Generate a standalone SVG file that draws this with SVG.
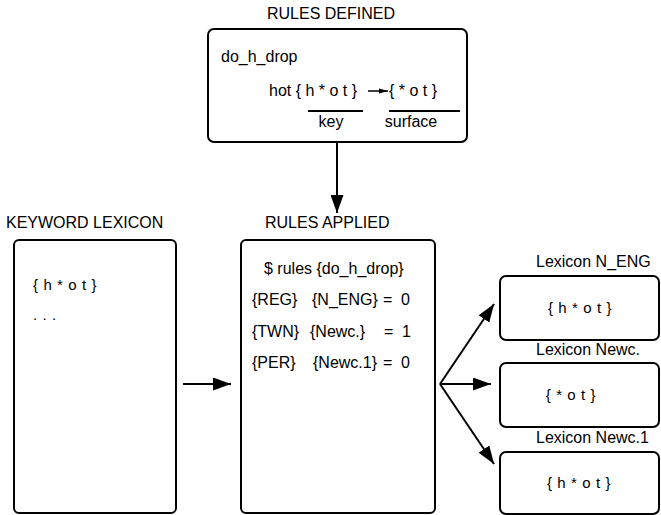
<svg xmlns="http://www.w3.org/2000/svg" width="661" height="515" viewBox="0 0 661 515">
<style>
text{font-family:"Liberation Sans",Arial,sans-serif;font-size:16px;fill:#000}
.s{font-size:15px;letter-spacing:0.6px}
.box{fill:#fff;stroke:#000;stroke-width:2}
.ln{stroke:#000;stroke-width:2;fill:none}
.thin{stroke:#000;stroke-width:1.5;fill:none}
</style>
<defs>
<marker id="ah" viewBox="0 0 18 13" refX="18" refY="6.5" markerWidth="18" markerHeight="13" markerUnits="userSpaceOnUse" orient="auto">
<path d="M0,0 L18,6.5 L0,13 Z" fill="#000"/>
</marker>
<marker id="sm" viewBox="0 0 9 6" refX="9" refY="3" markerWidth="9" markerHeight="6" markerUnits="userSpaceOnUse" orient="auto">
<path d="M0,0.5 L9,3 L0,5.5 Z" fill="#000"/>
</marker>
</defs>

<g id="rules-defined">
<text x="331" y="19" text-anchor="middle">RULES DEFINED</text>
<rect class="box" x="208" y="29" width="259" height="113" rx="6"/>
<text x="221" y="62">do_h_drop</text>
<text x="269" y="96">hot { h * o t }</text>
<line class="thin" x1="368" y1="91" x2="388" y2="91" marker-end="url(#sm)"/>
<text x="389" y="96">{ * o t }</text>
<line class="ln" x1="308" y1="111" x2="363" y2="111"/>
<line class="ln" x1="389" y1="111" x2="460" y2="111"/>
<text x="331" y="127" text-anchor="middle">key</text>
<text x="411" y="127" text-anchor="middle">surface</text>
</g>

<g id="keyword-lexicon">
<text x="6" y="228">KEYWORD LEXICON</text>
<rect class="box" x="14" y="240" width="162" height="273" rx="5"/>
<text class="s" x="33" y="290">{ h * o t }</text>
<text class="s" x="33" y="320">. . .</text>
</g>

<g id="rules-applied">
<text x="265" y="228">RULES APPLIED</text>
<rect class="box" x="241" y="240" width="194" height="273" rx="5"/>
<text x="264" y="274">$ rules {do_h_drop}</text>
<text x="252" y="305">{REG}</text><text x="312" y="305">{N_ENG}</text><text x="383" y="305">=</text><text x="401" y="305">0</text>
<text x="252" y="337">{TWN}</text><text x="310" y="337">{Newc.}</text><text x="384" y="337">=</text><text x="402" y="337">1</text>
<text x="252" y="368">{PER}</text><text x="313" y="368">{Newc.1}</text><text x="383" y="368">=</text><text x="401" y="368">0</text>
</g>

<g id="lexicon-n-eng">
<text x="536" y="267">Lexicon N_ENG</text>
<rect class="box" x="500" y="276" width="159" height="64" rx="6"/>
<text class="s" x="580" y="313" text-anchor="middle">{ h * o t }</text>
</g>

<g id="lexicon-newc">
<text x="536" y="355">Lexicon Newc.</text>
<rect class="box" x="500" y="363" width="159" height="64" rx="6"/>
<text class="s" x="571" y="400" text-anchor="middle">{ * o t }</text>
</g>

<g id="lexicon-newc1">
<text x="536" y="443">Lexicon Newc.1</text>
<rect class="box" x="500" y="452" width="159" height="62" rx="6"/>
<text class="s" x="579" y="488" text-anchor="middle">{ h * o t }</text>
</g>

<g id="connectors">
<line class="ln" x1="337" y1="143" x2="337" y2="213" marker-end="url(#ah)"/>
<line class="ln" x1="183" y1="384" x2="231" y2="384" marker-end="url(#ah)"/>
<line class="ln" x1="440" y1="384" x2="494" y2="304" marker-end="url(#ah)"/>
<line class="ln" x1="440" y1="384" x2="491" y2="384" marker-end="url(#ah)"/>
<line class="ln" x1="440" y1="384" x2="494" y2="464" marker-end="url(#ah)"/>
</g>
</svg>
